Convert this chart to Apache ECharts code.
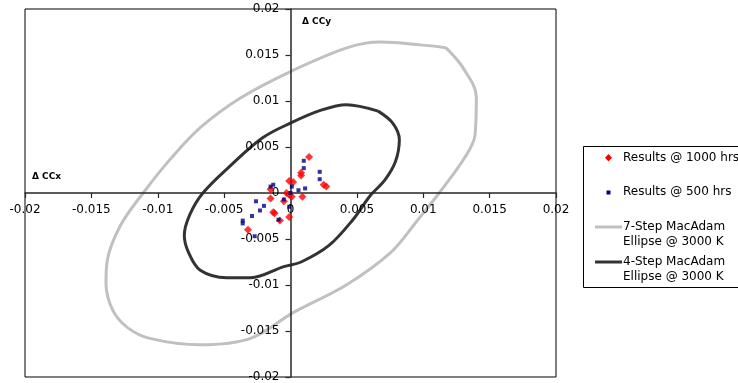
<!DOCTYPE html>
<html>
<head>
<meta charset="utf-8">
<script src="https://cdn.jsdelivr.net/npm/echarts@6/dist/echarts.min.js"></script>
<style>
  html, body { margin: 0; padding: 0; background: #fff; }
  #main { width: 738px; height: 383px; }
</style>
</head>
<body>
<div id="main"></div>
<script>
// axis ticks
const axisMin = -0.02;
const axisMax = 0.02;
const axisStep = 0.005;

// Results @ 1000 hrs  [dCCx, dCCy]
const results1000 = [
  [0.0014, 0.0039], [0.0008, 0.0022], [0.0008, 0.0019], [0.0025, 0.0009],
  [0.0027, 0.0007], [-0.0001, 0.0013], [0.0002, 0.0012], [-0.0015, 0.0004],
  [-0.0015, -0.0006], [-0.0005, -0.0009], [-0.0003, 0.0000], [-0.0001, -0.0002],
  [0.0001, -0.0004], [0.0009, -0.0004], [-0.0013, -0.0021], [-0.0012, -0.0022],
  [-0.0008, -0.0030], [-0.0001, -0.0026], [-0.0032, -0.0040]
];

// Results @ 500 hrs
const results500 = [
  [0.0010, 0.0035], [0.0010, 0.0027], [0.0022, 0.0023], [0.0022, 0.0015],
  [0.0001, 0.0007], [0.0011, 0.0005], [0.0006, 0.0003], [0.0000, 0.0000],
  [-0.0013, 0.0009], [-0.0015, 0.0007], [-0.0005, -0.0007], [-0.0026, -0.0009],
  [-0.0020, -0.0014], [-0.0023, -0.0019], [-0.0029, -0.0025], [-0.0036, -0.0030],
  [-0.0036, -0.0033], [-0.0009, -0.0029], [-0.0001, -0.0015], [-0.0027, -0.0047]
];

// 7-Step MacAdam Ellipse outline
const ellipse7 = [
  [0.0117, 0.0158], [0.0130, 0.0136], [0.0140, 0.0104], [0.0139, 0.0063],
  [0.0131, 0.0038], [0.0112, 0.0000], [0.0096, -0.0029], [0.0076, -0.0064],
  [0.0042, -0.0100], [0.0002, -0.0130], [-0.0030, -0.0158], [-0.0068, -0.0165],
  [-0.0106, -0.0158], [-0.0123, -0.0146], [-0.0134, -0.0127], [-0.0139, -0.0098],
  [-0.0138, -0.0073], [-0.0128, -0.0035], [-0.0111, 0.0000], [-0.0091, 0.0036],
  [-0.0068, 0.0071], [-0.0038, 0.0103], [0.0000, 0.0132], [0.0043, 0.0158],
  [0.0068, 0.0164], [0.0098, 0.0161], [0.0117, 0.0158]
];

// 4-Step MacAdam Ellipse outline
const ellipse4 = [
  [0.0066, 0.0089], [0.0077, 0.0076], [0.0082, 0.0058], [0.0079, 0.0034],
  [0.0071, 0.0014], [0.0060, -0.0003], [0.0047, -0.0029], [0.0029, -0.0057],
  [0.0008, -0.0075], [-0.0005, -0.0080], [-0.0030, -0.0092], [-0.0048, -0.0092],
  [-0.0068, -0.0084], [-0.0077, -0.0064], [-0.0080, -0.0046], [-0.0076, -0.0024],
  [-0.0066, 0.0000], [-0.0045, 0.0030], [-0.0021, 0.0060], [0.0000, 0.0076],
  [0.0023, 0.0090], [0.0042, 0.0096], [0.0066, 0.0089]
];

const chart = echarts.init(document.getElementById("main"));

const font = "DejaVu Sans";

// plot box
const gridLeft = 25, gridRight = 182, gridTop = 9, gridBottom = 6;
const gridW = 738 - gridLeft - gridRight;
const gridH = 383 - gridTop - gridBottom;

const axisCommon = {
  type: "value",
  min: axisMin,
  max: axisMax,
  interval: axisStep,
  axisLine: { show: true, onZero: false, lineStyle: { color: "#262626", width: 1.5 } },
  axisTick: { show: true, length: 5, lineStyle: { color: "#262626", width: 1.2 } },
  axisLabel: { color: "#000", fontFamily: font, fontSize: 12, margin: 11 },
  splitLine: { show: false },
};

const option = {
  animation: false,
  grid: {
    left: gridLeft,
    right: gridRight,
    top: gridTop,
    bottom: gridBottom,
    outerBoundsMode: "none", // keep the plot box where it is
    containLabel: false,
    show: true,
    borderColor: "#000",
    borderWidth: 1,
  },
  // axes cross in the middle (value 0), moved there by offset
  xAxis: { ...axisCommon, position: "bottom", offset: -gridH / 2, z: 10 },
  yAxis: { ...axisCommon, position: "left", offset: -gridW / 2, z: 10 },
  series: [
    {
      name: "7-Step MacAdam Ellipse @ 3000 K",
      type: "line",
      data: ellipse7,
      showSymbol: false,
      smooth: 0.35,
      lineStyle: { color: "#c0c0c0", width: 3 },
      z: 1,
    },
    {
      name: "4-Step MacAdam Ellipse @ 3000 K",
      type: "line",
      data: ellipse4,
      showSymbol: false,
      smooth: 0.35,
      lineStyle: { color: "#333", width: 3 },
      z: 2,
    },
    {
      name: "Results @ 1000 hrs",
      type: "scatter",
      data: results1000,
      symbol: "diamond",
      symbolSize: 8,
      itemStyle: { color: "#ff0000" },
      z: 11,
    },
    {
      name: "Results @ 500 hrs",
      type: "scatter",
      data: results500,
      symbol: "rect",
      symbolSize: 4,
      itemStyle: { color: "#000080" },
      z: 12,
    },
  ],
  // axis titles + legend box
  graphic: [
    { type: "text", left: 302, top: 17, style: { text: "Δ CCy", fontFamily: font, fontSize: 9, fontWeight: "bold", fill: "#000" } },
    { type: "text", left: 32, top: 172, style: { text: "Δ CCx", fontFamily: font, fontSize: 9, fontWeight: "bold", fill: "#000" } },
    { type: "rect", shape: { x: 583.5, y: 146.5, width: 170, height: 141 }, style: { fill: "#fff", stroke: "#000", lineWidth: 1 } },
    { type: "polygon", shape: { points: [[608.5, 154], [612, 157.7], [608.5, 161.4], [605, 157.7]] }, style: { fill: "#ff0000" } },
    { type: "text", x: 623, y: 158, style: { text: "Results @ 1000 hrs", fontFamily: font, fontSize: 12, fill: "#000", verticalAlign: "middle" } },
    { type: "rect", shape: { x: 606.5, y: 190.5, width: 4, height: 4 }, style: { fill: "#000080" } },
    { type: "text", x: 623, y: 192, style: { text: "Results @ 500 hrs", fontFamily: font, fontSize: 12, fill: "#000", verticalAlign: "middle" } },
    { type: "line", shape: { x1: 595, y1: 227, x2: 622, y2: 227 }, style: { stroke: "#c0c0c0", lineWidth: 3 } },
    { type: "text", x: 623, y: 227, style: { text: "7-Step MacAdam", fontFamily: font, fontSize: 12, fill: "#000", verticalAlign: "middle" } },
    { type: "text", x: 623, y: 242, style: { text: "Ellipse @ 3000 K", fontFamily: font, fontSize: 12, fill: "#000", verticalAlign: "middle" } },
    { type: "line", shape: { x1: 595, y1: 262, x2: 622, y2: 262 }, style: { stroke: "#333", lineWidth: 3 } },
    { type: "text", x: 623, y: 262, style: { text: "4-Step MacAdam", fontFamily: font, fontSize: 12, fill: "#000", verticalAlign: "middle" } },
    { type: "text", x: 623, y: 277, style: { text: "Ellipse @ 3000 K", fontFamily: font, fontSize: 12, fill: "#000", verticalAlign: "middle" } },
  ],
};

chart.setOption(option);

window.addEventListener("resize", () => {
  chart.resize();
});
</script>
</body>
</html>
